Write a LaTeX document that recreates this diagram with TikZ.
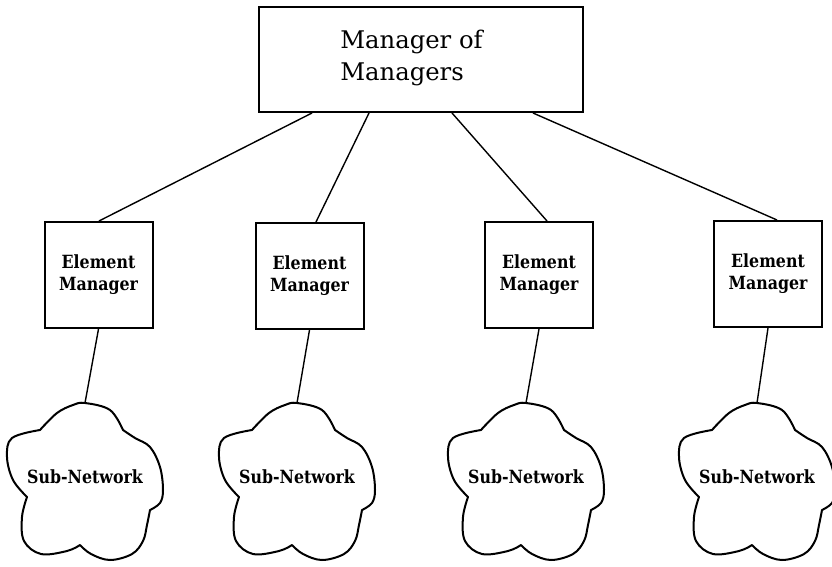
\documentclass[tikz,border=0pt]{standalone}
\usepackage{fontspec}
\usetikzlibrary{calc}
\newfontfamily\labfont{DejaVu Serif}
\newfontfamily\topfont{DejaVu Serif}
% two-line label stretched vertically
\newcommand\tallpair[2]{\scalebox{1}[1.15]{\begin{tabular}{@{}c@{}}#1\\#2\end{tabular}}}
% cloud outline hanging below a given top point
\newcommand\cloudoutline[1]{%
  \draw[cloudline, shift={(#1)}]
    plot[smooth, tension=0.6] coordinates {(-45,27) (-28,10) (-12,2) (0,0) (25,7) (38,27)}
    -- plot[smooth, tension=0.6] coordinates {(38,27) (50,35) (65,44) (75,64) (78,87) (75,100) (65,107)}
    -- plot[smooth, tension=0.6] coordinates {(65,107) (62,122) (58,138) (47,151) (25,157) (6,151) (-5,142)}
    -- plot[smooth, tension=0.6] coordinates {(-5,142) (-18,148) (-44,151) (-61,138) (-63,114) (-58,94)}
    -- plot[smooth, tension=0.6] coordinates {(-58,94) (-72,77) (-78,54) (-73,35) (-45,27)} -- cycle;}
\begin{document}
\begin{tikzpicture}[x=1pt, y=-1pt,
  box/.style={draw, line width=2pt, inner sep=0pt},
  link/.style={line width=1.4pt},
  cloudline/.style={line width=2pt, line join=round},
  boldlab/.style={font=\labfont\bfseries\fontsize{15.8}{19}\selectfont, inner sep=0pt}]
\useasboundingbox (0,0) rectangle (832,567);

% top-level manager
\node[box, minimum width=324pt, minimum height=105pt] (mom) at (421,60) {};
\node[font=\topfont\fontsize{24.3}{32}\selectfont, align=left] (momtext) at (411.5,58) {Manager of\\Managers};

% element managers
\foreach \i/\x/\y in {1/98.5/275, 2/309.5/276, 3/539/275, 4/768/274}{
  \node[box, boldlab, minimum width=108pt, minimum height=106pt] (e\i) at (\x,\y)
    {\tallpair{Element}{Manager}};
}

% sub-networks
\foreach \i/\x in {1/85, 2/297, 3/526, 4/757}{
  \coordinate (t\i) at (\x,403);
  \cloudoutline{t\i}
  \node[boldlab] (s\i) at ($(t\i)+(0,74)$) {\scalebox{1}[1.15]{Sub-Network}};
}

% links from the manager of managers
\coordinate (m1) at (312,113);
\coordinate (m2) at (369,113);
\coordinate (m3) at (452,113);
\coordinate (m4) at (533,113);
\draw[link] (m1) -- ($(e1.north)+(0.5,0)$);
\draw[link] (m2) -- ($(e2.north)+(6.5,0)$);
\draw[link] (m3) -- ($(e3.north)+(8,0)$);
\draw[link] (m4) -- ($(e4.north)+(9,0)$);

% links from element managers to sub-networks
\foreach \i in {1,2,3,4}{
  \draw[link] (e\i.south) -- (t\i);
}
\end{tikzpicture}
\end{document}
